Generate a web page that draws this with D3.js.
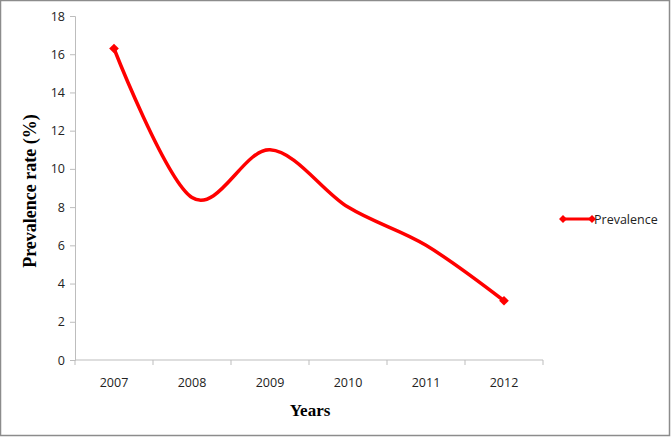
<!DOCTYPE html>
<html>
<head>
<meta charset="utf-8">
<style>
  body { margin: 0; background: #fff; }
  svg { display: block; }
</style>
</head>
<body>
<svg width="672" height="437"></svg>
<script src="https://d3js.org/d3.v7.min.js"></script>
<script>

var years = ["2007", "2008", "2009", "2010", "2011", "2012"];
var prevalence = [16.3, 8.5, 11.0, 8.0, 6.0, 3.1];
var yTicks = [0, 2, 4, 6, 8, 10, 12, 14, 16, 18];
var seriesName = "Prevalence";

var svg = d3.select("svg");

// outer frame
svg.append("rect")
    .attr("x", 0.5).attr("y", 0.5)
    .attr("width", 669).attr("height", 435)
    .attr("fill", "#fff")
    .attr("stroke", "#8c8c8c")
    .attr("stroke-width", 1.5);

var x = d3.scaleBand()
    .domain(years)
    .range([75, 543]);

var y = d3.scaleLinear()
    .domain([0, 18])
    .range([360, 16]);

// y axis
var yAxis = svg.append("g")
    .attr("transform", "translate(75,0)")
    .call(d3.axisLeft(y).tickValues(yTicks).tickSize(5).tickPadding(5));
yAxis.select(".domain").attr("stroke", "#bdbdbd");
yAxis.selectAll(".tick line").attr("stroke", "#bdbdbd");
yAxis.selectAll("text")
    .attr("font-family", "Open Sans, sans-serif")
    .attr("font-size", 12.5)
    .attr("fill", "#222");

// x axis, ticks at category boundaries
var xAxis = svg.append("g")
    .attr("transform", "translate(0,360)");
xAxis.append("line")
    .attr("x1", 75).attr("x2", 543)
    .attr("stroke", "#bdbdbd");
xAxis.selectAll(".tk")
    .data(years.concat(["end"]))
    .enter().append("line")
      .attr("x1", function(d, i) { return i < years.length ? x(d) : x.range()[1]; })
      .attr("x2", function(d, i) { return i < years.length ? x(d) : x.range()[1]; })
      .attr("y1", 0).attr("y2", 5)
      .attr("stroke", "#bdbdbd");
xAxis.selectAll(".lbl")
    .data(years)
    .enter().append("text")
      .attr("x", function(d) { return x(d) + x.bandwidth() / 2; })
      .attr("y", 27)
      .attr("text-anchor", "middle")
      .attr("font-family", "Open Sans, sans-serif")
      .attr("font-size", 12.5)
      .attr("fill", "#222")
      .text(function(d) { return d; });

// axis titles
svg.append("text")
    .attr("transform", "translate(36,191) rotate(-90)")
    .attr("text-anchor", "middle")
    .attr("font-family", "Liberation Serif, Times New Roman, serif")
    .attr("font-weight", "bold")
    .attr("font-size", 18)
    .text("Prevalence rate (%)");

svg.append("text")
    .attr("x", 310).attr("y", 416)
    .attr("text-anchor", "middle")
    .attr("font-family", "Liberation Serif, Times New Roman, serif")
    .attr("font-weight", "bold")
    .attr("font-size", 17)
    .text("Years");

// series
var pts = years.map(function(d, i) { return [x(d) + x.bandwidth() / 2, y(prevalence[i])]; });

svg.append("path")
    .attr("d", d3.line().curve(d3.curveCardinal.tension(0))(pts))
    .attr("fill", "none")
    .attr("stroke", "#ff0000")
    .attr("stroke-width", 3.5)
    .attr("stroke-linejoin", "round");

var diamond = d3.symbol().type(d3.symbolDiamond2).size(60);

svg.selectAll(".mk")
    .data([pts[0], pts[pts.length - 1]])
    .enter().append("path")
      .attr("d", diamond)
      .attr("transform", function(d) { return "translate(" + d[0] + "," + d[1] + ")"; })
      .attr("fill", "#ff0000");

// legend
var lg = svg.append("g").attr("transform", "translate(563,219)");
lg.append("line")
    .attr("x1", 0).attr("x2", 29)
    .attr("stroke", "#ff0000")
    .attr("stroke-width", 3);
lg.selectAll(".lm")
    .data([0, 29])
    .enter().append("path")
      .attr("d", d3.symbol().type(d3.symbolDiamond2).size(40))
      .attr("transform", function(d) { return "translate(" + d + ",0)"; })
      .attr("fill", "#ff0000");
lg.append("text")
    .attr("x", 31).attr("y", 4.5)
    .attr("font-family", "Open Sans, sans-serif")
    .attr("font-size", 12.5)
    .attr("fill", "#222")
    .text(seriesName);

</script>
</body>
</html>
